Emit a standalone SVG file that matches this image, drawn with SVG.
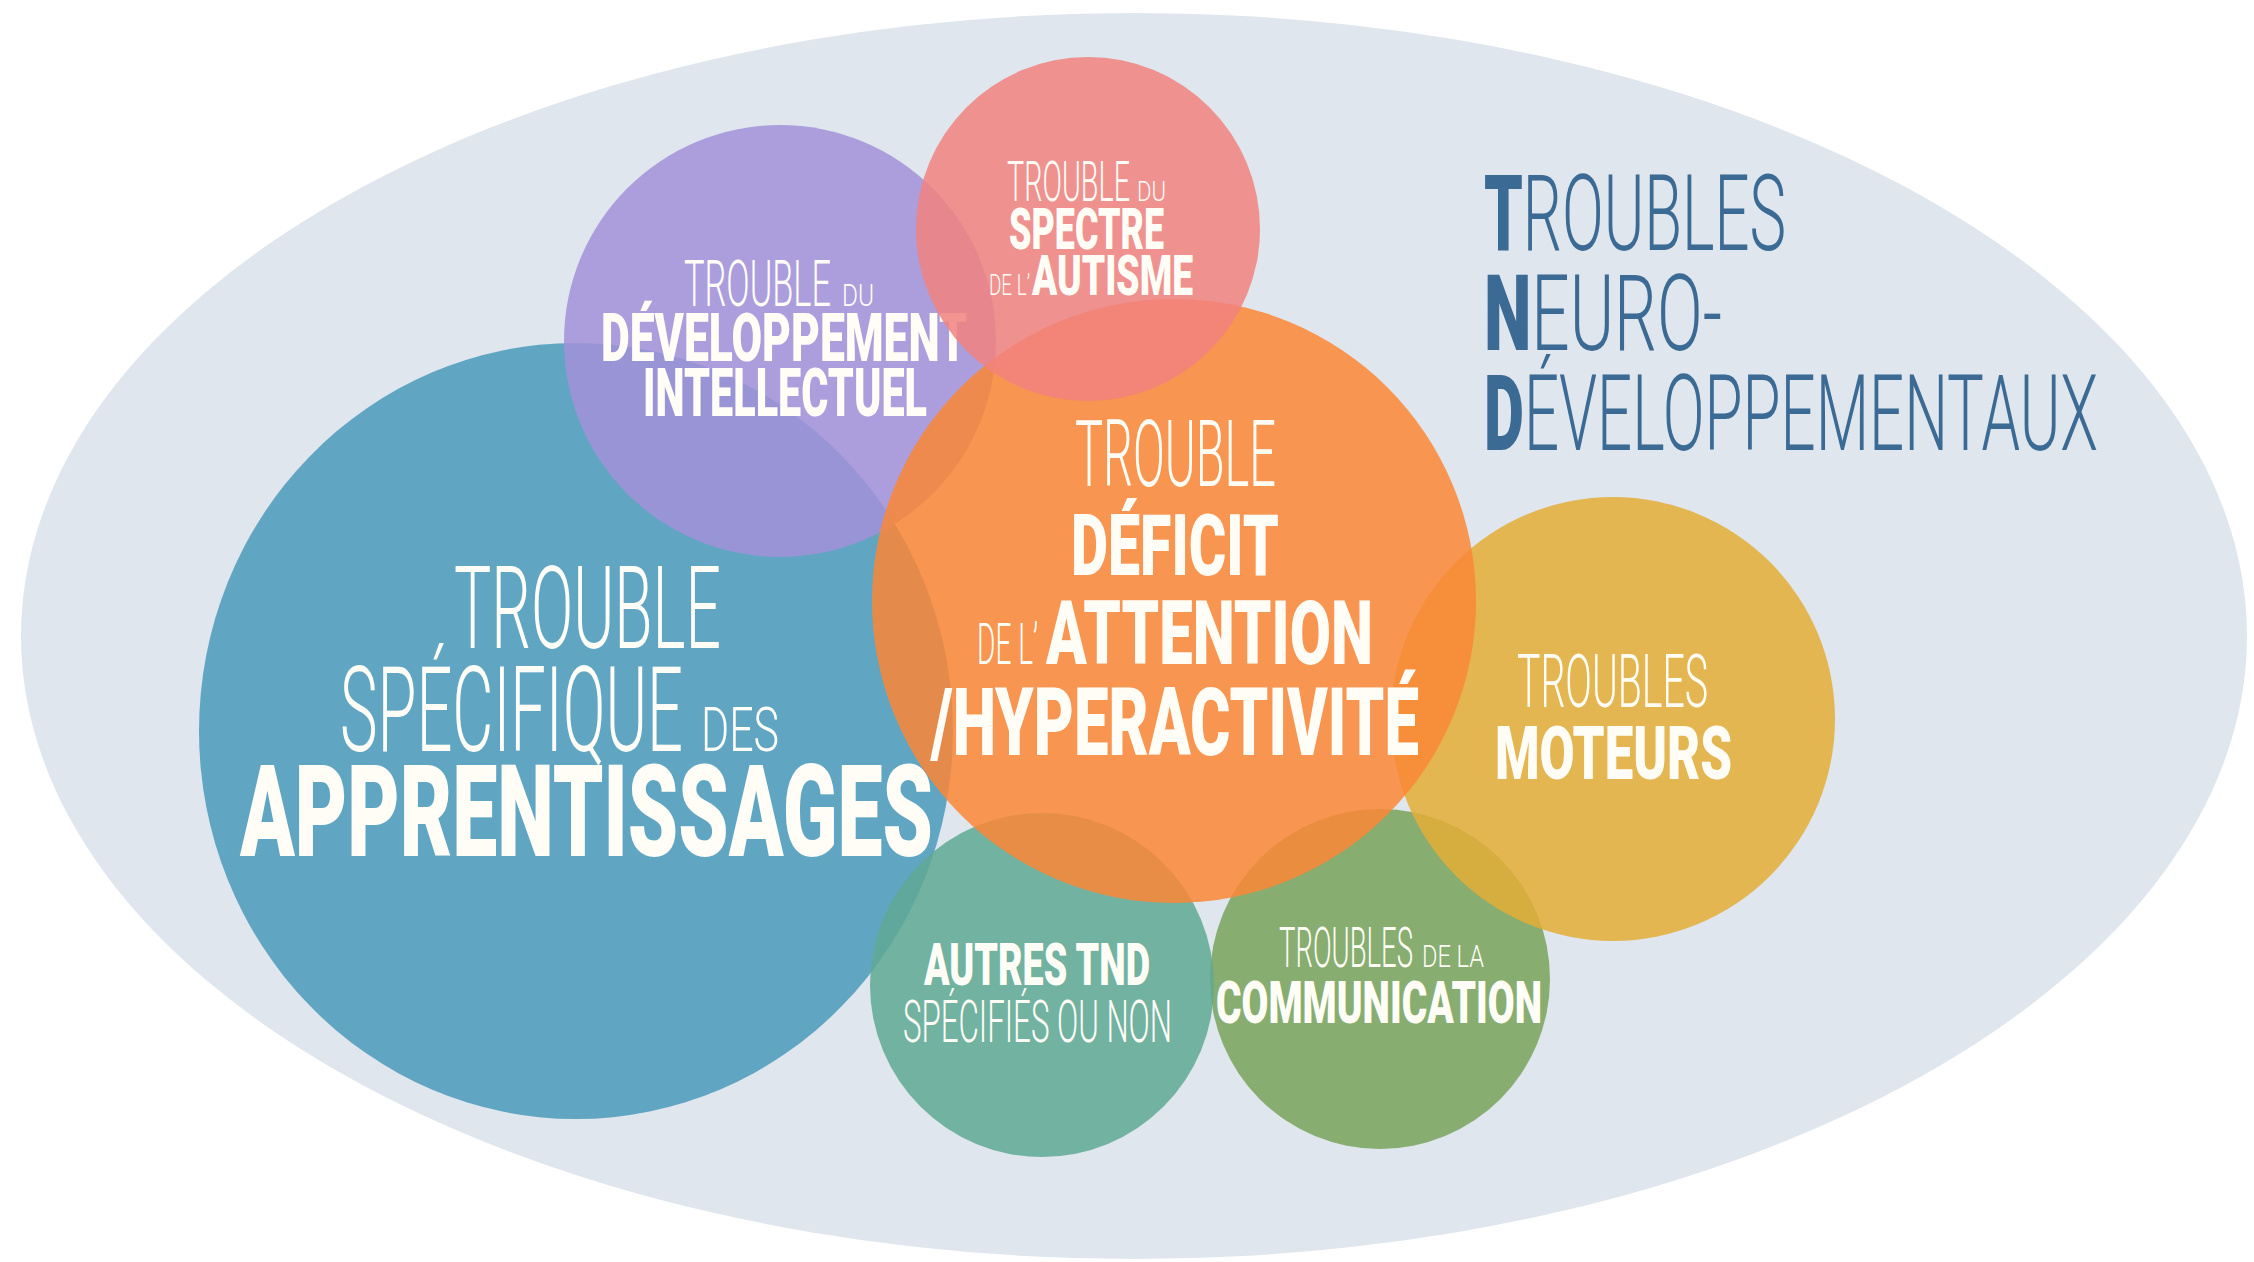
<svg xmlns="http://www.w3.org/2000/svg" width="2254" height="1262" viewBox="0 0 2254 1262">
  <style>
    .disc { fill-opacity: 0.86; }
    .lbl { font-family: Roboto, "Open Sans", "Liberation Sans", sans-serif; fill: #fffdf6; }
    .lt { font-weight: 300; }
    .bd { font-weight: 900; }
    .title { font-family: Roboto, "Open Sans", "Liberation Sans", sans-serif; font-weight: 300; fill: #3b6a95; font-size: 105px; }
    .title .cap { font-weight: 900; }
  </style>

  <!-- white page and the large pale backdrop oval -->
  <rect x="0" y="0" width="2254" height="1262" fill="#ffffff"/>
  <ellipse id="backdrop" cx="1134" cy="636" rx="1113" ry="623" fill="#dfe6ed"/>

  <!-- heading -->
  <g id="heading">
    <text class="title" x="1484" y="250" textLength="302" lengthAdjust="spacingAndGlyphs"><tspan class="cap">T</tspan>ROUBLES</text>
    <text class="title" x="1484" y="350" textLength="238" lengthAdjust="spacingAndGlyphs"><tspan class="cap">N</tspan>EURO-</text>
    <text class="title" x="1484" y="450" textLength="614" lengthAdjust="spacingAndGlyphs"><tspan class="cap">D</tspan>ÉVELOPPEMENTAUX</text>
  </g>

  <!-- empty connector layer: the bubbles only overlap, no links -->
  <g id="connectors"/>

  <!-- specific learning disorder -->
  <g id="node-apprentissages">
    <ellipse class="disc" cx="576" cy="731" rx="377" ry="388" fill="#4a9bbb"/>
    <text class="lbl lt" x="454" y="648" font-size="115" textLength="267" lengthAdjust="spacingAndGlyphs">TROUBLE</text>
    <text class="lbl lt" y="751"><tspan x="340" font-size="119" textLength="343" lengthAdjust="spacingAndGlyphs">SPÉCIFIQUE</tspan><tspan x="701" font-size="61" textLength="78" lengthAdjust="spacingAndGlyphs">DES</tspan></text>
    <text class="lbl bd" x="240" y="856" font-size="128" textLength="693" lengthAdjust="spacingAndGlyphs">APPRENTISSAGES</text>
  </g>

  <!-- intellectual development disorder -->
  <g id="node-intellectuel">
    <circle class="disc" cx="780" cy="341" r="216" fill="#a391d8"/>
    <text class="lbl lt" y="306"><tspan x="684" font-size="64" textLength="147" lengthAdjust="spacingAndGlyphs">TROUBLE</tspan><tspan x="842" font-size="32" textLength="32" lengthAdjust="spacingAndGlyphs">DU</tspan></text>
    <text class="lbl bd" x="601" y="361" font-size="66" textLength="366" lengthAdjust="spacingAndGlyphs">DÉVELOPPEMENT</text>
    <text class="lbl bd" x="643" y="416" font-size="67" textLength="284" lengthAdjust="spacingAndGlyphs">INTELLECTUEL</text>
  </g>

  <!-- communication disorders -->
  <g id="node-communication">
    <circle class="disc" cx="1380" cy="979" r="170" fill="#78a35c"/>
    <text class="lbl lt" y="967"><tspan x="1279" font-size="56" textLength="134" lengthAdjust="spacingAndGlyphs">TROUBLES</tspan><tspan x="1422" font-size="31" textLength="62" lengthAdjust="spacingAndGlyphs">DE LA</tspan></text>
    <text class="lbl bd" x="1216" y="1023" font-size="59" textLength="326" lengthAdjust="spacingAndGlyphs">COMMUNICATION</text>
  </g>

  <!-- other specified / unspecified disorders -->
  <g id="node-autres">
    <circle class="disc" cx="1042" cy="985" r="172" fill="#5fa994"/>
    <text class="lbl bd" x="924" y="985" font-size="60" textLength="226" lengthAdjust="spacingAndGlyphs">AUTRES TND</text>
    <text class="lbl lt" x="903" y="1042" font-size="60" textLength="269" lengthAdjust="spacingAndGlyphs">SPÉCIFIÉS OU NON</text>
  </g>

  <!-- motor disorders -->
  <g id="node-moteurs">
    <circle class="disc" cx="1613" cy="719" r="222" fill="#e3ae38"/>
    <text class="lbl lt" x="1517" y="707" font-size="75" textLength="191" lengthAdjust="spacingAndGlyphs">TROUBLES</text>
    <text class="lbl bd" x="1495" y="779" font-size="75" textLength="237" lengthAdjust="spacingAndGlyphs">MOTEURS</text>
  </g>

  <!-- attention deficit / hyperactivity disorder -->
  <g id="node-tdah">
    <circle class="disc" cx="1174" cy="601" r="302" fill="#fa8737"/>
    <text class="lbl lt" x="1075" y="486" font-size="92" textLength="201" lengthAdjust="spacingAndGlyphs">TROUBLE</text>
    <text class="lbl bd" x="1071" y="575" font-size="86" textLength="208" lengthAdjust="spacingAndGlyphs">DÉFICIT</text>
    <text class="lbl" y="664"><tspan class="lt" x="977" font-size="58" textLength="61" lengthAdjust="spacingAndGlyphs">DE L’</tspan><tspan class="bd" x="1046" font-size="89" textLength="327" lengthAdjust="spacingAndGlyphs">ATTENTION</tspan></text>
    <text class="lbl bd" x="931" y="755" font-size="95" textLength="488" lengthAdjust="spacingAndGlyphs">/HYPERACTIVITÉ</text>
  </g>

  <!-- autism spectrum disorder -->
  <g id="node-autisme">
    <circle class="disc" cx="1088" cy="229" r="172" fill="#f1827f"/>
    <text class="lbl lt" y="201"><tspan x="1007" font-size="55" textLength="123" lengthAdjust="spacingAndGlyphs">TROUBLE</tspan><tspan x="1137" font-size="28" textLength="29" lengthAdjust="spacingAndGlyphs">DU</tspan></text>
    <text class="lbl bd" x="1009" y="249" font-size="57" textLength="155" lengthAdjust="spacingAndGlyphs">SPECTRE</text>
    <text class="lbl" y="295"><tspan class="lt" x="989" font-size="29" textLength="41" lengthAdjust="spacingAndGlyphs">DE L’</tspan><tspan class="bd" x="1032" font-size="56" textLength="161" lengthAdjust="spacingAndGlyphs">AUTISME</tspan></text>
  </g>
</svg>
